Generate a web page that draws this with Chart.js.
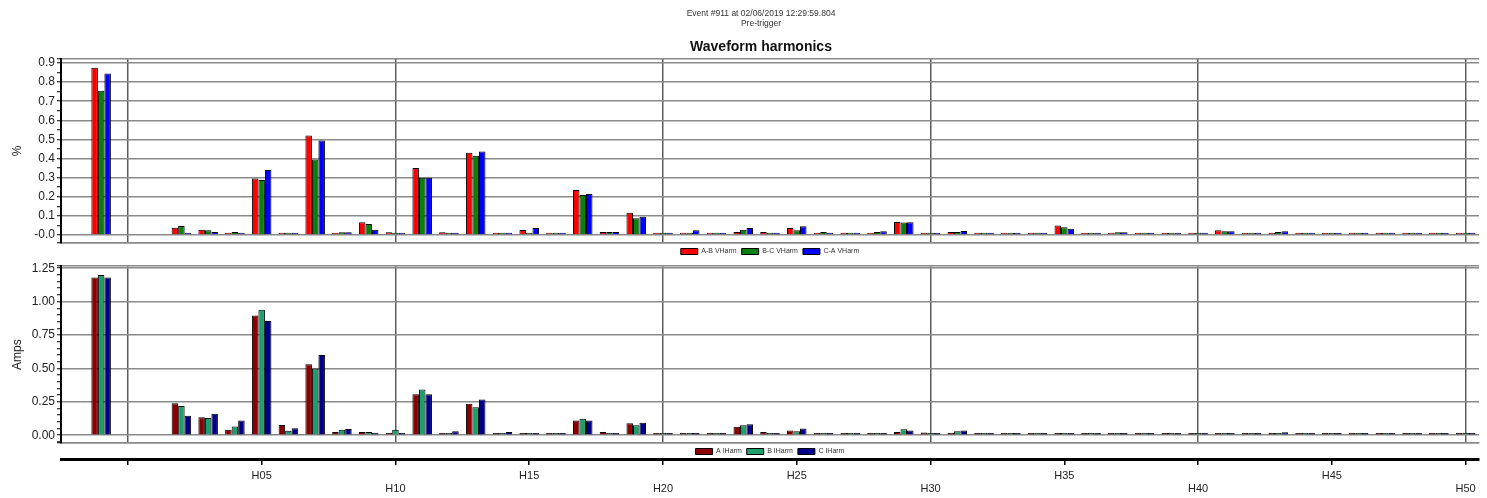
<!DOCTYPE html>
<html><head><meta charset="utf-8">
<script src="https://cdn.jsdelivr.net/npm/chart.js@4/dist/chart.umd.min.js"></script>
<style>
html,body{margin:0;padding:0;background:#fff;width:1487px;height:498px;overflow:hidden;position:relative}
canvas{position:absolute}
#c0{top:0;left:561px}#c1{top:0;left:0}#c2{top:257px;left:0}#c3{top:457px;left:0}
</style></head><body>
<canvas id="c1" width="1487" height="265"></canvas>
<canvas id="c0" width="400" height="59"></canvas>
<canvas id="c2" width="1487" height="208"></canvas>
<canvas id="c3" width="1487" height="41"></canvas>
<script>
// ---- data ----
const categories = ['', 'Fund', 'H00', 'H01', 'H02', 'H03', 'H04', 'H05', 'H06', 'H07', 'H08', 'H09', 'H10',
  'H11', 'H12', 'H13', 'H14', 'H15', 'H16', 'H17', 'H18', 'H19', 'H20',
  'H21', 'H22', 'H23', 'H24', 'H25', 'H26', 'H27', 'H28', 'H29', 'H30',
  'H31', 'H32', 'H33', 'H34', 'H35', 'H36', 'H37', 'H38', 'H39', 'H40',
  'H41', 'H42', 'H43', 'H44', 'H45', 'H46', 'H47', 'H48', 'H49', 'H50'];

const abVHarm = [null, 0.875, null, null,
  0.038, 0.028, 0.012, 0.296, 0.012, 0.52, 0.004, 0.067, 0.014,
  0.35, 0.014, 0.43, 0.006, 0.026, 0.007, 0.235, 0.016, 0.116, 0.007,
  0.012, 0.005, 0.016, 0.016, 0.037, 0.007, 0.012, 0.012, 0.068, 0.01,
  0.016, 0.005, 0.008, 0.008, 0.049, 0.005, 0.006, 0.005, 0.006, 0.004,
  0.025, 0.004, 0.008, 0.004, 0.004, 0.005, 0.006, 0.008, 0.005, 0.004];
const bcVHarm = [null, 0.755, null, null,
  0.047, 0.025, 0.016, 0.288, 0.012, 0.395, 0.014, 0.058, 0.007,
  0.30, 0.008, 0.414, 0.01, 0.005, 0.007, 0.209, 0.016, 0.088, 0.006,
  0.012, 0.01, 0.028, 0.007, 0.025, 0.016, 0.012, 0.016, 0.065, 0.01,
  0.016, 0.01, 0.008, 0.008, 0.04, 0.005, 0.014, 0.005, 0.006, 0.004,
  0.02, 0.004, 0.016, 0.004, 0.005, 0.005, 0.012, 0.005, 0.01, 0.004];
const caVHarm = [null, 0.845, null, null,
  0.006, 0.016, 0.004, 0.34, 0.008, 0.495, 0.014, 0.028, 0.007,
  0.30, 0.011, 0.437, 0.008, 0.037, 0.012, 0.214, 0.016, 0.096, 0.006,
  0.025, 0.006, 0.037, 0.012, 0.046, 0.012, 0.012, 0.02, 0.066, 0.007,
  0.021, 0.007, 0.012, 0.006, 0.033, 0.008, 0.014, 0.005, 0.006, 0.004,
  0.02, 0.004, 0.02, 0.008, 0.01, 0.008, 0.008, 0.004, 0.01, 0.004];

const aIHarm = [null, 1.18, null, null,
  0.24, 0.135, 0.041, 0.896, 0.077, 0.532, 0.024, 0.024, 0.012,
  0.306, 0.017, 0.236, 0.01, 0.01, 0.011, 0.11, 0.025, 0.089, 0.015,
  0.012, 0.008, 0.064, 0.025, 0.035, 0.015, 0.01, 0.012, 0.025, 0.02,
  0.01, 0.012, 0.012, 0.015, 0.01, 0.01, 0.01, 0.01, 0.008, 0.012,
  0.01, 0.008, 0.01, 0.016, 0.017, 0.008, 0.01, 0.011, 0.01, 0.01];
const bIHarm = [null, 1.20, null, null,
  0.219, 0.13, 0.065, 0.94, 0.034, 0.50, 0.041, 0.024, 0.041,
  0.342, 0.008, 0.21, 0.017, 0.01, 0.011, 0.124, 0.011, 0.075, 0.008,
  0.012, 0.015, 0.074, 0.01, 0.03, 0.011, 0.012, 0.01, 0.045, 0.011,
  0.03, 0.015, 0.012, 0.012, 0.011, 0.01, 0.01, 0.01, 0.01, 0.01,
  0.01, 0.016, 0.011, 0.011, 0.017, 0.011, 0.01, 0.011, 0.01, 0.018];
const cIHarm = [null, 1.18, null, null,
  0.145, 0.161, 0.11, 0.855, 0.053, 0.60, 0.046, 0.019, 0.006,
  0.306, 0.029, 0.267, 0.024, 0.01, 0.011, 0.11, 0.01, 0.094, 0.007,
  0.008, 0.011, 0.082, 0.01, 0.05, 0.008, 0.011, 0.01, 0.035, 0.008,
  0.035, 0.01, 0.012, 0.01, 0.015, 0.01, 0.011, 0.008, 0.012, 0.01,
  0.01, 0.011, 0.022, 0.01, 0.01, 0.012, 0.01, 0.01, 0.016, 0.01];

const topAxis = {min: -0.042, max: 0.921, major: 0.1, minor: 0.05, digits: 1, title: '%'};
const botAxis = {min: -0.058, max: 1.265, major: 0.25, minor: 0.05, digits: 2, title: 'Amps'};

// ---- helpers ----
const FONT = '"Liberation Sans", Arial, sans-serif';
Chart.defaults.font.family = FONT;
Chart.defaults.animation = false;
const CLEAR = 'rgba(0,0,0,0)';

function harmNum(i) {
  const m = /^H(\d\d)$/.exec(categories[i] || '');
  return m ? parseInt(m[1], 10) : null;
}
const isDecade = i => { const n = harmNum(i); return n !== null && n % 10 === 0; };
const isFive = i => { const n = harmNum(i); return n !== null && n % 5 === 0; };
const isMult = (v, step) => Math.abs(v / step - Math.round(v / step)) < 1e-6;

function plotConfig(ax, series, padTop) {
  const isBound = v => Math.abs(v - ax.min) < 1e-9 || Math.abs(v - ax.max) < 1e-9;
  return {
    type: 'bar',
    data: {
      labels: categories,
      datasets: series.map(s => ({
        label: s.label, data: s.data, backgroundColor: s.color,
        borderColor: '#000', borderWidth: 1, minBarLength: 2.2,
        categoryPercentage: 0.73, barPercentage: 1
      }))
    },
    options: {
      responsive: false, animation: false, devicePixelRatio: 1,
      layout: {padding: {left: 6, right: 8, top: padTop, bottom: 0}},
      plugins: {
        legend: {
          display: true, position: 'bottom', fullSize: false,
          labels: {boxWidth: 17, boxHeight: 6, padding: 5, font: {size: 7}, color: '#333'}
        },
        tooltip: {enabled: false},
        title: {display: false},
        subtitle: {display: false}
      },
      scales: {
        x: {
          offset: true,
          grid: {
            offset: false, drawTicks: false, lineWidth: 1.5,
            color: ctx => isDecade(ctx.index) ? '#5c5c5c' : CLEAR
          },
          ticks: {display: false, autoSkip: false},
          border: {display: true, color: '#8a8a8a', width: 1.5}
        },
        y: {
          min: ax.min, max: ax.max,
          afterFit: s => { s.width = 55; },
          afterBuildTicks: s => {
            const t = [{value: ax.min}];
            for (let k = Math.ceil(ax.min / ax.minor - 1e-9); k * ax.minor <= ax.max + 1e-9; k++) {
              t.push({value: +(k * ax.minor).toFixed(6)});
            }
            t.push({value: ax.max});
            s.ticks = t;
          },
          ticks: {
            autoSkip: false, padding: 2,
            font: {size: 12}, color: '#222',
            callback: v => {
              if (!isMult(v, ax.major)) return '';
              if (Math.abs(v) < 1e-9) return ax.digits === 1 ? '-0.0' : '0.00';
              return v.toFixed(ax.digits);
            }
          },
          grid: {
            lineWidth: 1.5, tickLength: 4, tickWidth: 1,
            color: ctx => (isMult(ctx.tick.value, ax.major) || isBound(ctx.tick.value)) ? '#8a8a8a' : CLEAR,
            tickColor: '#000'
          },
          border: {display: true, color: '#000', width: 2},
          title: {display: true, text: ax.title, font: {size: 12}, color: '#222', padding: {top: 4, bottom: 0}}
        }
      }
    }
  };
}

// titles (centred over the plotting area)
new Chart(document.getElementById('c0'), {
  type: 'bar',
  data: {labels: [], datasets: []},
  options: {
    responsive: false, animation: false, devicePixelRatio: 1,
    layout: {padding: 0},
    scales: {x: {display: false}, y: {display: false}},
    plugins: {
      legend: {display: false}, tooltip: {enabled: false},
      title: {
        display: true, text: ['Event #911 at 02/06/2019 12:29:59.804', 'Pre-trigger'],
        font: {size: 8.5, weight: 'normal', lineHeight: 1.25}, color: '#333',
        padding: {top: 8, bottom: 9.6}
      },
      subtitle: {
        display: true, text: 'Waveform harmonics',
        font: {size: 14, weight: 'bold', lineHeight: 1.2}, color: '#111',
        padding: {top: 0, bottom: 0}
      }
    }
  }
});

new Chart(document.getElementById('c1'), plotConfig(topAxis, [
  {label: 'A-B VHarm', data: abVHarm, color: '#ff0000'},
  {label: 'B-C VHarm', data: bcVHarm, color: '#0b7f0b'},
  {label: 'C-A VHarm', data: caVHarm, color: '#0000ff'}
], 59));

new Chart(document.getElementById('c2'), plotConfig(botAxis, [
  {label: 'A IHarm', data: aIHarm, color: '#8b0000'},
  {label: 'B IHarm', data: bIHarm, color: '#1f9e6c'},
  {label: 'C IHarm', data: cIHarm, color: '#00008b'}
], 2));

new Chart(document.getElementById('c3'), {
  type: 'bar',
  data: {labels: categories, datasets: []},
  options: {
    responsive: false, animation: false, devicePixelRatio: 1,
    layout: {padding: {left: 61, right: 8, top: 0, bottom: 0}},
    plugins: {legend: {display: false}, tooltip: {enabled: false}},
    scales: {
      x: {
        offset: true,
        afterFit: s => { s.height = 39; },
        grid: {
          offset: false, drawOnChartArea: false, drawTicks: true, tickLength: 6,
          lineWidth: 1.5, tickWidth: 1.5,
          color: ctx => isFive(ctx.index) ? '#000' : CLEAR,
          tickColor: ctx => isFive(ctx.index) ? '#000' : CLEAR
        },
        border: {display: true, color: '#000', width: 3},
        ticks: {
          autoSkip: false, maxRotation: 0, minRotation: 0, padding: 4,
          font: {size: 11, lineHeight: 1.2}, color: '#222',
          callback: (v, i) => {
            const n = harmNum(i);
            if (n === null || n === 0 || n % 5) return '';
            return n % 10 === 5 ? categories[i] : ['', categories[i]];
          }
        }
      },
      y: {display: false}
    }
  }
});
</script></body></html>
